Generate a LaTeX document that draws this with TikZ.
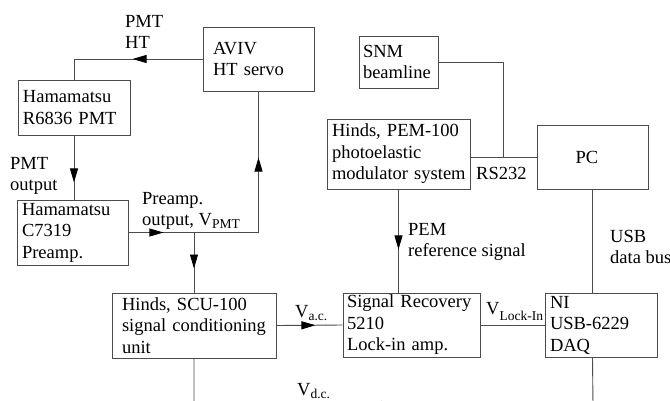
\documentclass[tikz,border=0pt]{standalone}
\usepackage{fontspec}
\setmainfont{Liberation Serif}
\usetikzlibrary{arrows.meta,decorations.markings}
\newcommand\lowsub[2][-3pt]{\raisebox{#1}{\fontsize{13.5}{13.5}\selectfont #2}}
\hyphenpenalty=10000
\exhyphenpenalty=10000
\begin{document}
\begin{tikzpicture}[x=1pt,y=-1pt,
  lc/.style={draw=black!70, line width=0.9pt},
  box/.style={lc, rectangle, inner ysep=0pt, align=left, anchor=center,
    font=\fontsize{18.5}{21.5}\selectfont},
  lbl/.style={inner sep=0pt, align=left, anchor=north west,
    font=\fontsize{18.5}{21.5}\selectfont},
  mid/.style={postaction={decorate, decoration={markings,
    mark=at position #1 with {\arrow[black]{Triangle[length=14pt,width=8pt]}}}}}
]
\useasboundingbox (0,0) rectangle (670,400);
\fill[white] (0,0) rectangle (670,400);
\clip (0,0) rectangle (670,400);

% boxes
\node[box, minimum width=111pt, minimum height=64pt, inner xsep=10pt, text width=91pt] (aviv) at (258.5,59) {AVIV\\HT~servo};
\node[box, minimum width=112pt, minimum height=55pt, inner xsep=5pt, text width=102pt] (r6836) at (74,107.5) {Hamamatsu\\R6836~PMT};
\node[box, minimum width=111pt, minimum height=65pt, inner xsep=5pt, text width=101pt] (c7319) at (72.5,232.5) {Hamamatsu\\C7319\\Preamp.};
\node[box, minimum width=164pt, minimum height=65pt, inner xsep=10pt, text width=144pt] (scu) at (194,325.5) {Hinds,~SCU-100\\signal~conditioning\\unit};
\node[box, minimum width=79pt, minimum height=52pt, inner xsep=4pt, text width=71pt] (snm) at (398.5,62) {SNM\\beamline};
\node[box, minimum width=143pt, minimum height=70pt, inner xsep=5pt, text width=133pt] (pem) at (398.5,154) {Hinds,~PEM-100\\photoelastic\\modulator~system};
\node[box, minimum width=111pt, minimum height=64pt, align=center] (pc) at (592.5,157) {PC\hspace*{11pt}};
\node[box, minimum width=137pt, minimum height=64pt, inner xsep=4pt, text width=129pt] (sr) at (411.5,325) {Signal~Recovery\\5210\\Lock-in~amp.};
\node[box, minimum width=112pt, minimum height=64pt, inner xsep=5pt, text width=102pt] (daq) at (601,325) {NI\\USB-6229\\DAQ};

% labels
\node[lbl] (lpmtht) at (125,15) {PMT\\HT};
\node[lbl] (lpmtout) at (10,157) {PMT\\output};
\node[lbl] (lpre) at (142,192) {Preamp.\\output, V\lowsub{PMT}};
\node[lbl] (lvac) at (295,305) {V\lowsub{a.c.}};
\node[lbl] (lvdc) at (297,383) {V\lowsub{d.c.}};
\node[lbl] (lvli) at (486,302) {V\lowsub[-6pt]{Lock-In}};
\node[lbl] (lrs) at (476,167) {RS232};
\node[lbl] (lpem) at (408,223) {PEM\\reference signal};
\node[lbl] (lusb) at (610,230) {USB\\data bus};

% connectors
\coordinate (j) at (scu.north |- c7319.east);
\coordinate (rs) at (503,0);
\coordinate (bl) at (194,405);
\coordinate (br) at (593,405);

\draw[lc, mid=70pt] (aviv.west) -| (r6836.north);
\draw[lc, mid=47pt] (r6836.south) -- (r6836.south |- c7319.north);
\draw[lc, mid=35pt, mid=205pt] (c7319.east) -| (aviv.south);
\draw[lc, mid=36pt] (j) -- (scu.north);
\draw[lc, mid=39pt] (scu.east) -- (sr.west);
\draw[lc, mid=60pt] (pem.south) -- (pem.south |- sr.north);
\draw[lc] (snm.east) -| (rs |- pc.west);
\draw[lc] (pem.east |- pc.west) -- (pc.west);
\draw[lc] (pc.south) -- (pc.south |- daq.north);
\draw[lc] (sr.east) -- (daq.west);
\draw[lc, mid=248pt] (scu.south) -- (bl) -- (br) -- (pc.south |- daq.south);
\end{tikzpicture}
\end{document}
